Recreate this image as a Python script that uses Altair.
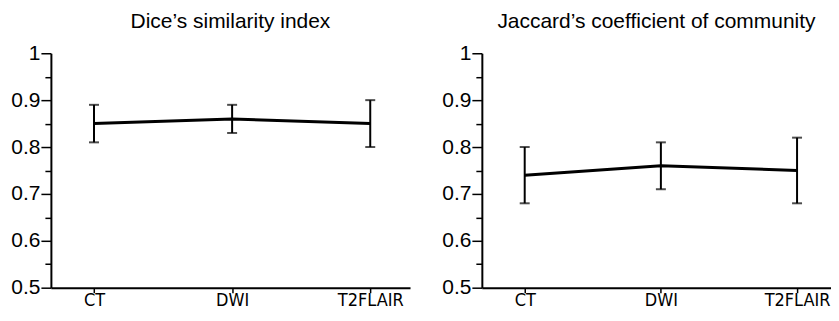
import altair as alt
import pandas as pd

categories = ["CT", "DWI", "T2FLAIR"]
dice_mean = [0.85, 0.86, 0.85]
dice_low = [0.81, 0.83, 0.80]
dice_high = [0.89, 0.89, 0.90]
jac_mean = [0.74, 0.76, 0.75]
jac_low = [0.68, 0.71, 0.68]
jac_high = [0.80, 0.81, 0.82]
major_ticks = [0.5, 0.6, 0.7, 0.8, 0.9, 1.0]
minor_ticks = [0.55, 0.65, 0.75, 0.85, 0.95]


def panel(title, mean, lo, hi, width, pad, align):
    df = pd.DataFrame({"cat": categories, "mean": mean, "lo": lo, "hi": hi})
    base = alt.Chart(df)
    x = alt.X(
        "cat:N", sort=categories,
        scale=alt.Scale(type="point", padding=pad, align=align),
        axis=alt.Axis(title=None, labelAngle=0,
                      labelFont="DejaVu Sans Condensed, DejaVu Sans",
                      labelFontSize=18, labelColor="black", tickSize=5,
                      tickWidth=1.5, tickColor="black", domainColor="black",
                      domainWidth=2, labelPadding=-1),
    )
    yscale = alt.Scale(domain=[0.5, 1.0], zero=False, nice=False)
    major_axis = alt.Axis(
        title=None, values=major_ticks, grid=False, orient="left",
        labelExpr="datum.value == 1 ? '1' : format(datum.value, '.1f')",
        labelFont="Liberation Sans", labelFontSize=21, labelColor="black",
        tickSize=10, tickWidth=1.5, tickColor="black", domainColor="black",
        domainWidth=2, labelPadding=1,
    )
    minor_axis = alt.Axis(
        title=None, values=minor_ticks, grid=False, orient="left",
        labels=False, domain=False, tickSize=6, tickWidth=1.5,
        tickColor="black",
    )
    line = base.mark_line(color="black", strokeWidth=3).encode(
        x=x, y=alt.Y("mean:Q", scale=yscale, axis=major_axis)
    )
    bars = base.mark_rule(color="black", strokeWidth=2).encode(
        x=x, y=alt.Y("lo:Q", scale=yscale, axis=minor_axis), y2="hi:Q"
    )
    cap_lo = base.mark_tick(color="black", thickness=2, size=10, orient="horizontal").encode(
        x=x, y=alt.Y("lo:Q", scale=yscale, axis=None)
    )
    cap_hi = base.mark_tick(color="black", thickness=2, size=10, orient="horizontal").encode(
        x=x, y=alt.Y("hi:Q", scale=yscale, axis=None)
    )
    return alt.layer(line, bars, cap_lo, cap_hi).resolve_axis(y="independent").properties(
        width=width, height=235,
        title=alt.TitleParams(title, font="Liberation Sans", fontSize=21,
                              fontWeight="normal", color="black",
                              anchor="middle", offset=10),
    )


left = panel("Dice\u2019s similarity index", dice_mean, dice_low, dice_high, 360, 0.3, 0.52)
right = panel("Jaccard\u2019s coefficient of community", jac_mean, jac_low, jac_high, 350, 0.282, 0.558)

chart = alt.hconcat(left, right, spacing=31).properties(
    padding={"left": 2, "top": 3, "right": 0, "bottom": 3}
).configure_view(stroke=None)

chart.save("out.html", embed_options={"renderer": "svg", "actions": False})
